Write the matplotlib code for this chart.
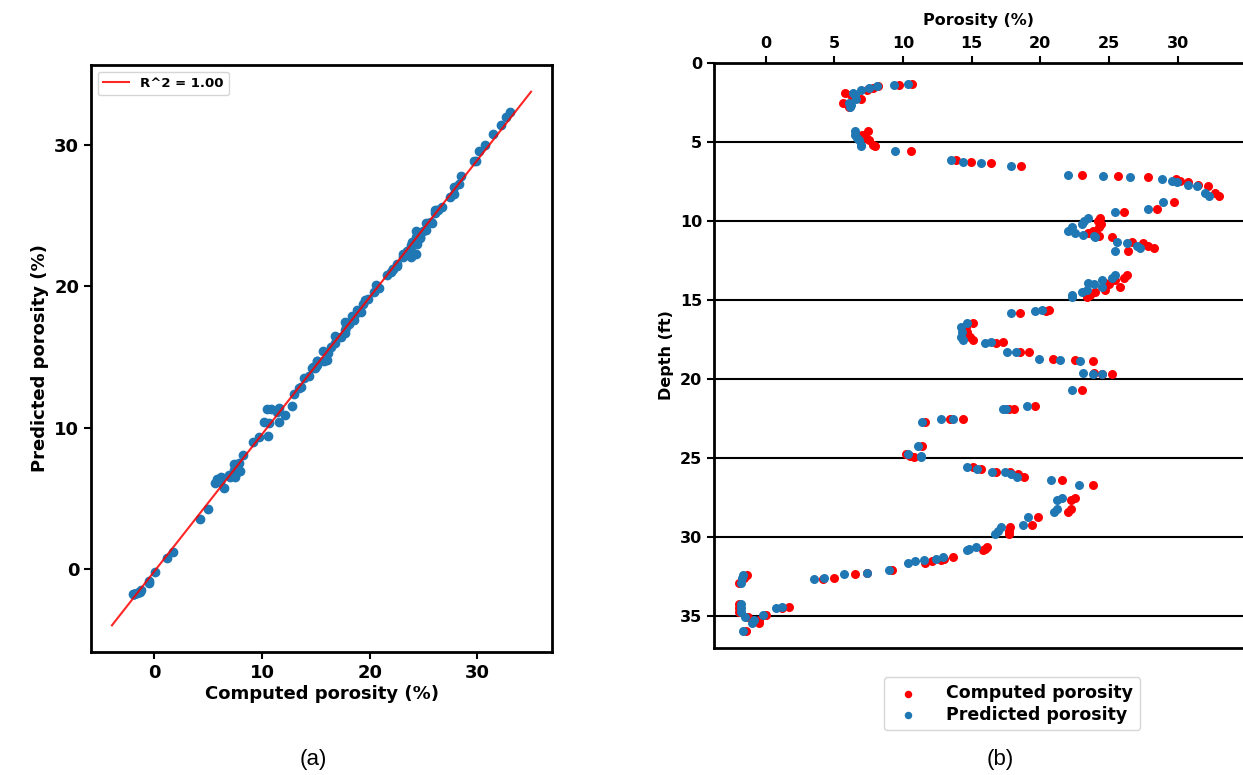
import numpy as np
import matplotlib
matplotlib.use("Agg")
import matplotlib.pyplot as plt

# depth (ft), computed porosity (%), predicted porosity (%)
depth = [1.33, 1.37, 1.43, 1.58, 1.69, 1.90, 2.02, 2.26, 2.53, 2.65, 2.78,
         4.32, 4.54, 4.75, 4.89, 5.17, 5.27, 5.59, 6.12, 6.27, 6.33, 6.54,
         7.09, 7.15, 7.22, 7.34, 7.45, 7.55, 7.70, 7.80, 8.23, 8.40, 8.80,
         9.22, 9.41, 9.81, 10.00, 10.20, 10.40, 10.60, 10.75, 10.86, 10.93,
         11.00, 11.29, 11.39, 11.60, 11.71, 11.92, 13.44, 13.60, 13.70, 13.90,
         14.00, 14.17, 14.35, 14.50, 14.66, 14.80, 15.65, 15.70, 15.82, 16.46,
         16.70, 17.00, 17.30, 17.50, 17.66, 17.70, 18.26, 18.26, 18.73, 18.80,
         18.85, 19.58, 19.64, 19.68, 20.70, 21.72, 21.87, 21.87, 22.50, 22.50,
         22.72, 24.20, 24.73, 24.84, 24.95, 25.58, 25.65, 25.84, 25.90, 26.00,
         26.18, 26.40, 26.67, 27.50, 27.66, 28.24, 28.39, 28.73, 29.20, 29.34,
         29.60, 29.80, 30.64, 30.72, 30.79, 31.27, 31.36, 31.42, 31.53, 31.63,
         32.06, 32.27, 32.33, 32.55, 32.63, 32.40, 32.60, 32.90, 34.20, 34.40,
         34.50, 34.50, 34.70, 34.93, 35.03, 35.24, 35.45, 35.94]
computed = [10.67, 9.72, 8.21, 7.82, 7.36, 5.78, 6.20, 6.97, 5.67, 6.00, 6.10,
            7.44, 7.05, 7.30, 7.56, 7.82, 7.95, 10.57, 13.86, 14.97, 16.42, 18.58,
            23.06, 25.67, 27.85, 29.84, 30.20, 30.75, 31.50, 32.20, 32.70, 33.00, 29.70,
            28.50, 26.10, 24.35, 24.20, 24.40, 24.30, 23.80, 23.50, 24.10, 24.30,
            25.20, 26.70, 27.50, 27.80, 28.30, 26.35, 26.30, 26.10, 25.40, 24.70,
            25.00, 25.80, 24.70, 24.00, 23.60, 23.40, 20.60, 20.40, 18.50, 15.10,
            14.60, 14.70, 14.90, 15.10, 17.30, 16.80, 19.20, 18.55, 20.90, 22.50,
            23.80, 23.90, 24.50, 25.20, 23.06, 19.60, 18.06, 17.70, 14.35, 13.40,
            11.60, 11.40, 10.20, 10.50, 10.80, 15.10, 15.70, 16.80, 17.80, 18.40,
            18.80, 21.60, 23.80, 22.50, 22.20, 22.20, 22.00, 19.80, 19.40, 17.80,
            17.70, 17.70, 16.10, 16.00, 15.80, 13.65, 13.00, 12.75, 12.10, 11.60,
            9.20, 7.40, 6.50, 5.00, 4.20, -1.37, -1.60, -1.90, -1.90, 1.70,
            1.20, -1.95, -1.90, 0.05, -1.25, -0.47, -0.47, -1.42]
predicted = [10.34, 9.35, 8.08, 7.51, 6.97, 6.35, 6.50, 6.61, 6.09, 6.20, 6.15,
             6.48, 6.53, 6.66, 6.79, 6.92, 6.92, 9.43, 13.52, 14.35, 15.67, 17.90,
             22.05, 24.53, 26.53, 28.86, 29.60, 29.97, 30.75, 31.40, 32.00, 32.30, 28.90,
             27.80, 25.40, 23.50, 23.20, 23.00, 22.30, 22.05, 22.50, 23.10, 23.90,
             24.00, 25.60, 26.30, 27.00, 27.25, 25.40, 25.40, 25.20, 24.50, 23.50,
             23.90, 24.50, 23.40, 23.00, 22.30, 22.30, 20.10, 19.60, 17.90, 14.70,
             14.20, 14.30, 14.20, 14.40, 16.40, 16.00, 18.20, 17.60, 19.90, 21.40,
             22.90, 23.10, 23.80, 24.50, 22.30, 19.00, 17.30, 17.50, 13.65, 12.80,
             11.40, 11.10, 10.40, 11.30, 11.30, 14.70, 15.40, 16.45, 17.40, 17.90,
             18.30, 20.80, 22.80, 21.60, 21.20, 21.20, 21.00, 19.10, 18.75, 17.15,
             16.90, 16.70, 15.30, 14.80, 14.70, 12.90, 12.40, 11.50, 10.90, 10.40,
             9.00, 7.40, 5.70, 4.25, 3.50, -1.63, -1.70, -1.80, -1.75, 1.17,
             0.75, -1.80, -1.75, -0.20, -1.50, -0.85, -0.98, -1.63]

depth_ticks = [0, 5, 10, 15, 20, 25, 30, 35]

comp = np.array(computed)
pred = np.array(predicted)

# linear fit for the cross-plot
coef = np.polyfit(comp, pred, 1)
r2 = np.corrcoef(comp, pred)[0, 1] ** 2
fx = np.linspace(comp.min() - 2, comp.max() + 2, 100)

plt.rcParams['font.family'] = ['DejaVu Sans']
plt.rcParams['font.weight'] = 'bold'

fig = plt.figure(figsize=(12.43, 7.75), dpi=100)

# (a) cross-plot
ax1 = fig.add_axes([0.0732, 0.1587, 0.3709, 0.7574])
ax1.scatter(comp, pred, color='#1f77b4', s=36)
ax1.plot(fx, np.polyval(coef, fx), color='red', lw=1.5, alpha=0.85,
         label="R^2 = %.2f" % r2)
ax1.legend(loc='upper left', prop={'size': 9.5, 'weight': 'bold'})
ax1.set_xticks([0, 10, 20, 30])
ax1.set_yticks([0, 10, 20, 30])
ax1.tick_params(labelsize=13, width=1.5, length=5)
ax1.set_xlabel("Computed porosity (%)", fontsize=13, fontweight='bold', labelpad=2)
ax1.set_ylabel("Predicted porosity (%)", fontsize=13, fontweight='bold')
for sp in ax1.spines.values():
    sp.set_linewidth(2)

# (b) depth log
ax2 = fig.add_axes([0.5744, 0.1639, 0.4256, 0.7548])
ax2.scatter(computed, depth, color='red', s=30, label='Computed porosity')
ax2.scatter(predicted, depth, color='#1f77b4', s=30, label='Predicted porosity')
ax2.set_ylim(37, 0)
ax2.set_xlim(-3.75, 34.75)
ax2.set_yticks(depth_ticks)
ax2.set_xticks([0, 5, 10, 15, 20, 25, 30])
ax2.xaxis.tick_top()
ax2.xaxis.set_label_position('top')
ax2.tick_params(labelsize=11.5, width=1.5, length=5)
ax2.set_xlabel("Porosity (%)", fontsize=11.5, fontweight='bold', labelpad=8)
ax2.set_ylabel("Depth (ft)", fontsize=11.5, fontweight='bold')
ax2.grid(axis='y', color='black', lw=1.5)
ax2.set_axisbelow(True)
for sp in ax2.spines.values():
    sp.set_linewidth(2)
ax2.spines['right'].set_visible(False)
ax2.legend(loc='upper center', bbox_to_anchor=(0.563, -0.035),
           prop={'size': 12.5, 'weight': 'bold'}, markerscale=0.8,
           handletextpad=1.2, borderpad=0.4, labelspacing=0.2)

fig.text(313 / 1243, 1 - 760 / 775, "(a)", fontsize=16, fontweight='normal',
         family='Liberation Sans', ha='center', va='center')
fig.text(1000 / 1243, 1 - 760 / 775, "(b)", fontsize=16, fontweight='normal',
         family='Liberation Sans', ha='center', va='center')

fig.savefig("out.png", dpi=100)
